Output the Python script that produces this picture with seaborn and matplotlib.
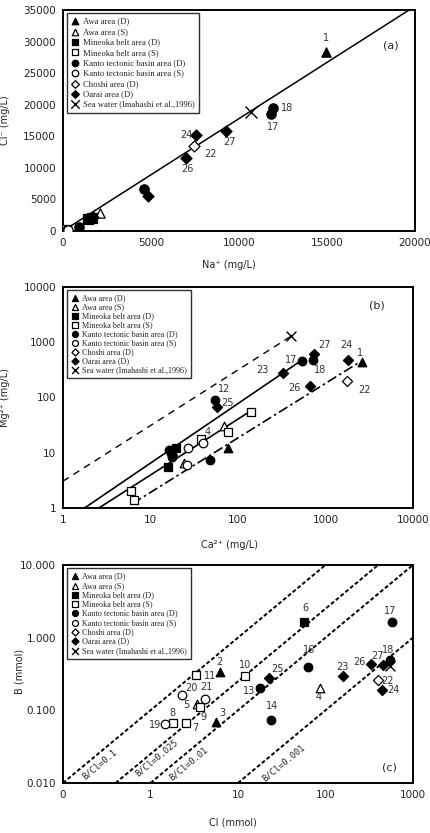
import numpy as np
import pandas as pd
import seaborn as sns
import matplotlib.pyplot as plt
from matplotlib.ticker import FixedLocator, FixedFormatter

sns.set_style('white')
plt.rcParams['font.family'] = ['DejaVu Sans']
plt.rcParams['axes.unicode_minus'] = False

# 凡例の系列
groups = ['Awa area (D)', 'Awa area (S)', 'Mineoka belt area (D)', 'Mineoka belt area (S)',
          'Kanto tectonic basin area (D)', 'Kanto tectonic basin area (S)',
          'Choshi area (D)', 'Oarai area (D)', 'Sea water (Imahashi et al.,1996)']
markers = ['^', '^', 's', 's', 'o', 'o', 'D', 'D', 'x']
filled = [True, False, True, False, True, False, False, True, True]

# (a) Na+ - Cl- (mg/L)
na_a = [[14970], [2080], [1450, 1650], [180],
        [11830, 11960, 4600, 1550, 900], [220, 300], [7430],
        [7550, 7000, 9250, 4850, 1720], [10700]]
cl_a = [[28300], [2900], [1850, 2050], [80],
        [18600, 19500, 6700, 2000, 650], [100, 150], [13500],
        [15200, 11600, 15800, 5500, 2150], [18900]]
slope_a = 1.78
lab_a = ['1', '18', '17', '24', '22', '26', '27']
lab_a_x = [14930, 12750, 11960, 6990, 8380, 7080, 9470]
lab_a_y = [30500, 19400, 16500, 15180, 12270, 9890, 14120]

# (b) Ca2+ - Mg2+ (mg/L)
ca_b = [[2600, 78], [70, 24], [15.8, 19.5, 17.5], [6.0, 6.5, 38, 78, 140],
        [16.5, 17.5, 48, 55, 540, 730], [27, 40, 26], [1750],
        [57, 330, 740, 660, 1800, 17.5], [400]]
mg_b = [[440, 12], [31, 6.6], [5.5, 12, 11], [2.0, 1.4, 18, 24, 55],
        [11, 8.2, 7.3, 90, 460, 470], [12, 15, 6.0], [200],
        [68, 280, 620, 160, 480, 9], [1270]]
line_b_dash_x, line_b_dash_y = [1, 400], [3.05, 1270]
line_b_s1_x, line_b_s1_y = [1.77, 530], [1, 467]
line_b_s2_x, line_b_s2_y = [2.58, 140], [1, 57]
line_b_dd_x, line_b_dd_y = [6.25, 2520], [1.2, 447]
lab_b = ['1', '24', '27', '17', '18', '23', '12', '25', '26', '22', '4']
lab_b_x = [2460, 1730, 980, 406, 858, 193, 70, 77, 444, 2800, 45]
lab_b_y = [651, 898, 898, 467, 316, 316, 141, 80, 147, 137, 24]

# (c) Cl - B (mmol)
cl_c = [[6.2, 5.6], [3.45, 87], [57], [3.3, 11.9, 3.7, 1.8, 2.55],
        [580, 550, 63, 17.8, 24], [2.3, 4.2, 1.45], [400],
        [22.5, 157, 335, 455, 440], [545]]
b_c = [[0.34, 0.070], [0.123, 0.205], [1.67], [0.31, 0.30, 0.11, 0.066, 0.066],
       [1.62, 0.50, 0.39, 0.20, 0.073], [0.165, 0.143, 0.064], [0.265],
       [0.275, 0.30, 0.43, 0.42, 0.19], [0.41]]
ratios_c = [0.1, 0.025, 0.01, 0.001]
ratio_lab = ['B/Cl=0.1', 'B/Cl=0.025', 'B/Cl=0.01', 'B/Cl=0.001']
ratio_lab_x = [0.259, 1.18, 2.72, 33.6]
ratio_lab_y = [0.0182, 0.022, 0.0188, 0.0188]
lab_c = ['2', '3', '4', '5', '6', '7', '8', '9', '10', '11', '13', '14', '16', '17',
         '18', '19', '20', '21', '22', '23', '24', '25', '26', '27']
lab_c_x = [6.2, 6.6, 84.7, 2.55, 59.6, 3.25, 1.79, 4.06, 12.2, 4.75, 13.3, 24.7, 65, 554,
           516, 1.13, 2.98, 4.35, 516, 157, 605, 28.2, 244, 389]
lab_c_y = [0.47, 0.0917, 0.155, 0.118, 2.54, 0.057, 0.0917, 0.080, 0.423, 0.299, 0.182,
           0.113, 0.68, 2.36, 0.68, 0.0634, 0.205, 0.209, 0.255, 0.401, 0.192, 0.369,
           0.47, 0.562]


def make_df(xs, ys):
    rows = []
    for g, xx, yy in zip(groups, xs, ys):
        for a, b in zip(xx, yy):
            rows.append((g, a, b))
    return pd.DataFrame(rows, columns=['group', 'x', 'y'])


def draw_points(ax, df, s_main, s_x):
    for g, m, f in zip(groups, markers, filled):
        sub = df[df['group'] == g]
        if m == 'x':
            sns.scatterplot(data=sub, x='x', y='y', marker='x', s=s_x, color='black',
                            linewidth=1.0, ax=ax, label=g, legend=False, zorder=3)
        else:
            s = s_main * (0.7 if m == 'D' else 1.0)
            sns.scatterplot(data=sub, x='x', y='y', marker=m, s=s,
                            color='black' if f else 'white', edgecolor='black',
                            linewidth=0.9, ax=ax, label=g, legend=False, zorder=3)


def style_axes(ax):
    for sp in ax.spines.values():
        sp.set_linewidth(1.4)
        sp.set_color('black')
    ax.tick_params(direction='in', length=3, width=0.8, labelsize=7.5,
                   colors='black', labelcolor='#222222', pad=5)
    ax.set_xlabel('')
    ax.set_ylabel('')


def add_legend(ax, size, spacing):
    ax.legend(loc='upper left', bbox_to_anchor=(0.012, 0.985), frameon=True,
              fancybox=False, edgecolor='#333333', framealpha=1, markerscale=0.7,
              prop={'family': 'Liberation Serif', 'size': size}, handlelength=0.9,
              handletextpad=0.4, labelspacing=spacing, borderpad=0.5, borderaxespad=0)
    ax.get_legend().get_frame().set_linewidth(1.0)


fig = plt.figure(figsize=(4.31, 8.33), dpi=100)
ax_a = fig.add_axes([0.146, 0.7227, 0.817, 0.2653])
ax_b = fig.add_axes([0.146, 0.3902, 0.812, 0.2653])
ax_c = fig.add_axes([0.146, 0.0600, 0.812, 0.2617])

num_kw = dict(fontsize=7, color='#333333', ha='center', va='center', zorder=4)

# ---- (a)
df_a = make_df(na_a, cl_a)
draw_points(ax_a, df_a, 45, 75)
line_x = np.array([0, 35000 / slope_a])
ax_a.plot(line_x, slope_a * line_x, color='black', lw=1.1, zorder=2)
ax_a.set_xlim(0, 20000)
ax_a.set_ylim(0, 35000)
ax_a.set_xticks(range(0, 20001, 5000))
ax_a.set_yticks(range(0, 35001, 5000))
style_axes(ax_a)
for t, x, y in zip(lab_a, lab_a_x, lab_a_y):
    ax_a.text(x, y, t, **num_kw)
ax_a.text(0.93, 0.84, '(a)', transform=ax_a.transAxes, fontsize=8, ha='center', va='center')
ax_a.set_xlabel('Na⁺ (mg/L)', fontsize=7)
ax_a.set_ylabel('Cl⁻ (mg/L)', fontsize=7)
ax_a.xaxis.set_label_coords(0.47, -0.131)
ax_a.yaxis.set_label_coords(-0.15, 0.5)
add_legend(ax_a, 6.2, 0.27)

# ---- (b)
df_b = make_df(ca_b, mg_b)
ax_b.set_xscale('log')
ax_b.set_yscale('log')
draw_points(ax_b, df_b, 38, 50)
ax_b.plot(line_b_dash_x, line_b_dash_y, color='black', lw=1.0, ls=(0, (5, 4)), zorder=2)
ax_b.plot(line_b_s1_x, line_b_s1_y, color='black', lw=1.2, zorder=2)
ax_b.plot(line_b_s2_x, line_b_s2_y, color='black', lw=1.2, zorder=2)
ax_b.plot(line_b_dd_x, line_b_dd_y, color='black', lw=1.2, ls=(0, (6, 2, 1.5, 2)), zorder=2)
ax_b.set_xlim(1, 10000)
ax_b.set_ylim(1, 10000)
ticks_b = [1, 10, 100, 1000, 10000]
ax_b.xaxis.set_major_locator(FixedLocator(ticks_b))
ax_b.yaxis.set_major_locator(FixedLocator(ticks_b))
ax_b.xaxis.set_major_formatter(FixedFormatter([str(t) for t in ticks_b]))
ax_b.yaxis.set_major_formatter(FixedFormatter([str(t) for t in ticks_b]))
ax_b.minorticks_off()
style_axes(ax_b)
for t, x, y in zip(lab_b, lab_b_x, lab_b_y):
    ax_b.text(x, y, t, **num_kw)
ax_b.text(0.897, 0.918, '(b)', transform=ax_b.transAxes, fontsize=8, ha='center', va='center')
ax_b.set_xlabel('Ca²⁺ (mg/L)', fontsize=7)
ax_b.set_ylabel('Mg²⁺ (mg/L)', fontsize=7)
ax_b.xaxis.set_label_coords(0.477, -0.145)
ax_b.yaxis.set_label_coords(-0.15, 0.5)
add_legend(ax_b, 5.9, 0.12)

# ---- (c)
df_c = make_df(cl_c, b_c)
ax_c.set_xscale('log')
ax_c.set_yscale('log')
draw_points(ax_c, df_c, 38, 50)
ax_c.set_xlim(0.1, 1000)
ax_c.set_ylim(0.01, 10)
for r in ratios_c:
    xr = np.array([0.01 / r, min(10 / r, 1000)])
    ax_c.plot(xr, r * xr, color='black', lw=1.4, ls=(0, (2, 1.2)), zorder=2)
p1 = ax_c.transData.transform((1, 0.01))
p2 = ax_c.transData.transform((10, 0.1))
ang = np.degrees(np.arctan2(p2[1] - p1[1], p2[0] - p1[0]))
for t, x, y in zip(ratio_lab, ratio_lab_x, ratio_lab_y):
    ax_c.text(x, y, t, rotation=ang, rotation_mode='anchor', ha='center', va='center',
              family='DejaVu Sans Mono', fontsize=6.3, color='#222222')
ax_c.xaxis.set_major_locator(FixedLocator([0.1, 1, 10, 100, 1000]))
ax_c.xaxis.set_major_formatter(FixedFormatter(['0', '1', '10', '100', '1000']))
ax_c.yaxis.set_major_locator(FixedLocator([0.01, 0.1, 1, 10]))
ax_c.yaxis.set_major_formatter(FixedFormatter(['0.010', '0.100', '1.000', '10.000']))
ax_c.minorticks_off()
style_axes(ax_c)
for t, x, y in zip(lab_c, lab_c_x, lab_c_y):
    ax_c.text(x, y, t, **num_kw)
ax_c.text(0.934, 0.069, '(c)', transform=ax_c.transAxes, fontsize=8, ha='center', va='center')
ax_c.set_xlabel('Cl (mmol)', fontsize=7)
ax_c.set_ylabel('B (mmol)', fontsize=7)
ax_c.xaxis.set_label_coords(0.486, -0.16)
ax_c.yaxis.set_label_coords(-0.109, 0.51)
add_legend(ax_c, 5.9, 0.16)

fig.savefig('out.png', dpi=100)
